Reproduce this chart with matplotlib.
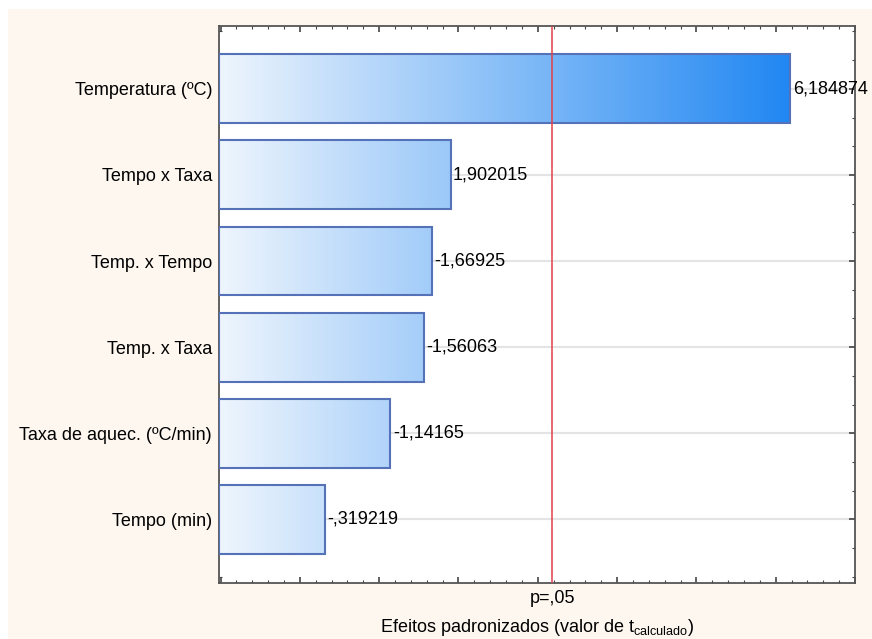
import numpy as np
import matplotlib
matplotlib.use('Agg')
import matplotlib.pyplot as plt
from matplotlib.colors import LinearSegmentedColormap
from matplotlib.patches import Rectangle
from matplotlib.ticker import MultipleLocator, AutoMinorLocator

# effects, listed from top to bottom
factors = ['Temperatura (ºC)', 'Tempo x Taxa', 'Temp. x Tempo',
           'Temp. x Taxa', 'Taxa de aquec. (ºC/min)', 'Tempo (min)']
effects = [6.184874, 1.902015, -1.66925, -1.56063, -1.14165, -0.319219]
effect_labels = ['6,184874', '1,902015', '-1,66925', '-1,56063',
                 '-1,14165', '-,319219']
t_crit = 3.182
p_label = 'p=,05'

plt.rcParams['font.family'] = ['Liberation Sans', 'DejaVu Sans']
fs = 13

fig = plt.figure(figsize=(8.72, 6.39), dpi=100, facecolor='white')
fig.patches.append(Rectangle((8 / 872, 0), 1, 630 / 639,
                             transform=fig.transFigure,
                             facecolor='#fdf7f0', edgecolor='none', zorder=-10))
ax = fig.add_axes([219 / 872, 56 / 639, 636 / 872, 557 / 639])
ax.set_facecolor('white')

xmin, xmax = -1.02, 7.0

n = len(factors)
ypos = np.arange(n)[::-1]
heights = 0.8
cmap = LinearSegmentedColormap.from_list('blues', ['#eef5fd', '#1f86f2'])
grad = np.linspace(0, 1, 256).reshape(1, -1)

for y in ypos:
    ax.axhline(y, color='#e4e4e4', lw=1.5, zorder=1)

for y, v, lab in zip(ypos, effects, effect_labels):
    w = abs(v) - xmin
    bar = Rectangle((xmin, y - heights / 2), w, heights,
                    facecolor='none', edgecolor='#5572b8', lw=1.5, zorder=3)
    ax.add_patch(bar)
    im = ax.imshow(grad, cmap=cmap, aspect='auto', zorder=2,
                   extent=[xmin, 6.25, y - heights / 2, y + heights / 2])
    im.set_clip_path(bar)
    ax.text(abs(v) + 0.03, y, lab, va='center', ha='left', fontsize=fs,
            zorder=5)

ax.axvline(t_crit, color='#e0404a', lw=1.1, zorder=4)
ax.set_xlim(xmin, xmax)
ax.set_ylim(-0.74, 5.73)

ax.set_yticks(ypos)
ax.set_yticklabels(factors, fontsize=fs)
ax.yaxis.set_minor_locator(AutoMinorLocator(3))
ax.xaxis.set_major_locator(MultipleLocator(1))
ax.xaxis.set_minor_locator(MultipleLocator(0.2))
ax.set_xticklabels([])
ax.tick_params(which='both', direction='in', top=True, right=True,
               color='#444444')
ax.tick_params(which='major', length=4, width=1.2)
ax.tick_params(which='minor', length=2, width=0.8)
ax.tick_params(axis='y', pad=5)
for s in ax.spines.values():
    s.set_color('#555555')
    s.set_linewidth(1.3)

ax.text(t_crit, -0.82, p_label, transform=ax.transData, ha='center',
        va='top', fontsize=fs)
ax.set_xlabel(r'Efeitos padronizados (valor de t$_{\mathregular{calculado}}$)',
              fontsize=fs, labelpad=21)

fig.savefig('out.png', dpi=100, facecolor=fig.get_facecolor())
